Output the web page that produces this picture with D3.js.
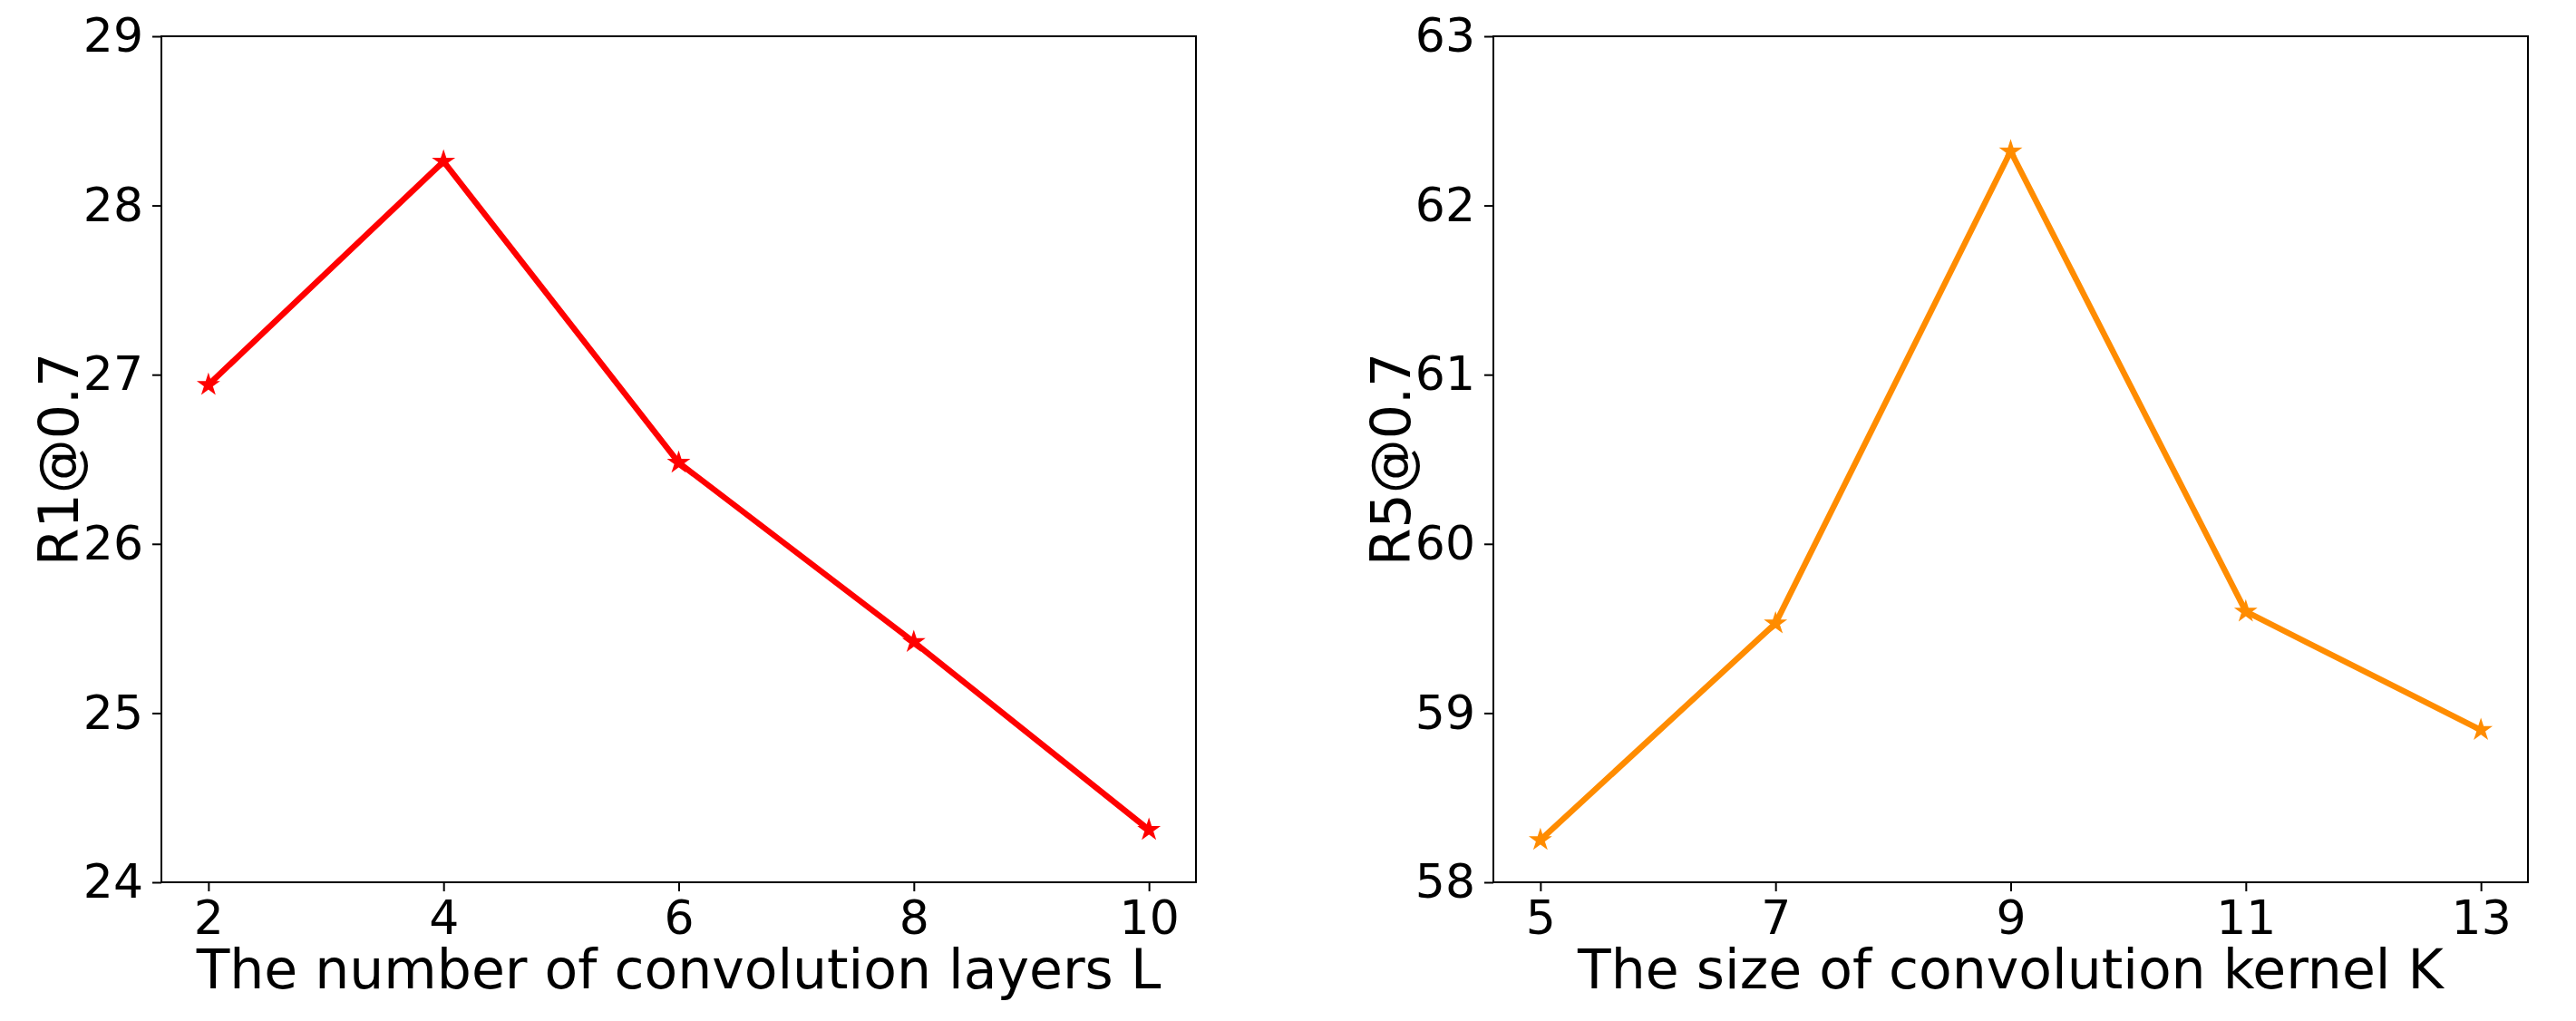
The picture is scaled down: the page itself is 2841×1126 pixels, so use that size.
<!DOCTYPE html>
<html><head><meta charset="utf-8">
<script src="https://cdn.jsdelivr.net/npm/d3@7"></script>
<style>body{margin:0;background:#fff}text{font-family:"DejaVu Sans",sans-serif}</style>
</head><body>
<script>
// left panel
const layers = [2, 4, 6, 8, 10];
const r1 = [26.94, 28.26, 26.48, 25.42, 24.31];
const r1Ticks = [24, 25, 26, 27, 28, 29];
// right panel
const kernels = [5, 7, 9, 11, 13];
const r5 = [58.25, 59.53, 62.32, 59.60, 58.90];
const r5Ticks = [58, 59, 60, 61, 62, 63];

const svg = d3.select("body").append("svg").attr("width", 2841).attr("height", 1126);

function panel(left, xs, ys, yTicks, color, xLabel, yLabel) {
    const top = 40, bottom = 973, right = left + 1141;
    const span = xs[xs.length - 1] - xs[0];
    const x = d3.scaleLinear().domain([xs[0] - span * 0.05, xs[xs.length - 1] + span * 0.05]).range([left, right]);
    const y = d3.scaleLinear().domain([yTicks[0], yTicks[yTicks.length - 1]]).range([bottom, top]);
    const g = svg.append("g");

    const xa = g.append("g").attr("transform", `translate(0,${bottom})`)
        .call(d3.axisBottom(x).tickValues(xs).tickSize(10).tickPadding(10).tickFormat(d3.format("d")));
    const ya = g.append("g").attr("transform", `translate(${left},0)`)
        .call(d3.axisLeft(y).tickValues(yTicks).tickSize(10).tickPadding(10).tickFormat(d3.format("d")));
    [xa, ya].forEach(a => {
        a.select(".domain").remove();
        a.selectAll("line").attr("stroke", "#000").attr("stroke-width", 2);
        a.selectAll("text").attr("font-size", 52).attr("fill", "#000");
    });
    g.append("rect").attr("x", left).attr("y", top).attr("width", right - left).attr("height", bottom - top)
        .attr("fill", "none").attr("stroke", "#000").attr("stroke-width", 2);

    const pts = xs.map((d, i) => [d, ys[i]]);
    g.append("path").datum(pts)
        .attr("d", d3.line().x(d => x(d[0])).y(d => y(d[1])))
        .attr("fill", "none").attr("stroke", color).attr("stroke-width", 6.5);
    g.selectAll(".m").data(pts).enter().append("path")
        .attr("d", d3.symbol(d3.symbolStar, 120))
        .attr("transform", d => `translate(${x(d[0])},${y(d[1])})`)
        .attr("fill", color).attr("stroke", color).attr("stroke-width", 2);

    g.append("text").attr("x", (left + right) / 2).attr("y", 1090).attr("text-anchor", "middle")
        .attr("font-size", 60).text(xLabel);
    g.append("text").attr("transform", `translate(${left - 92},${(top + bottom) / 2}) rotate(-90)`)
        .attr("text-anchor", "middle").attr("font-size", 60).text(yLabel);
}

panel(178, layers, r1, r1Ticks, "#ff0000", "The number of convolution layers L", "R1@0.7");
panel(1647, kernels, r5, r5Ticks, "#ff8c00", "The size of convolution kernel K", "R5@0.7");
</script>
</body></html>
